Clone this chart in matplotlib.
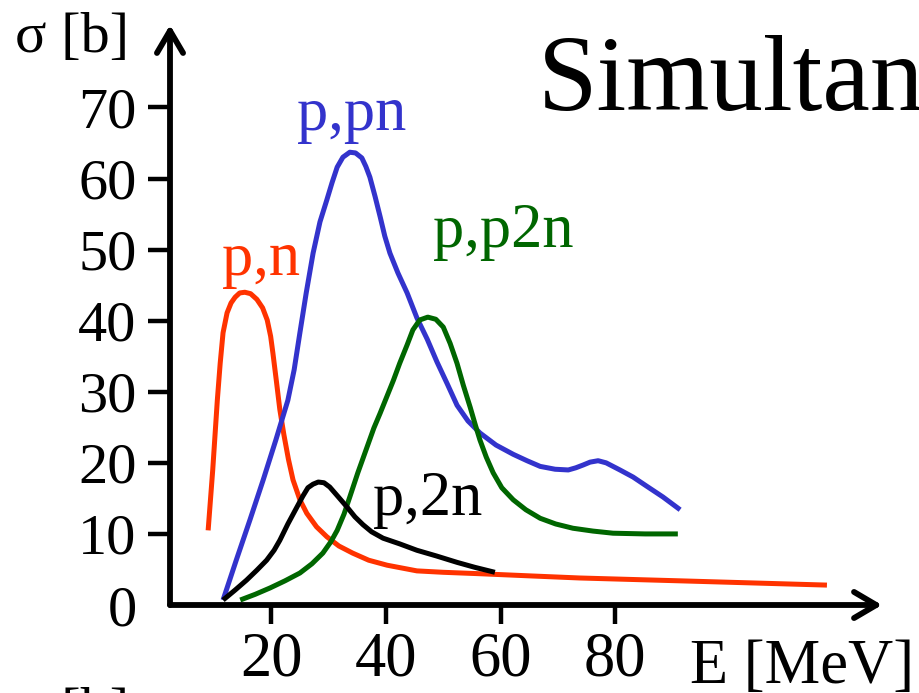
import matplotlib
matplotlib.use("Agg")
import matplotlib.pyplot as plt

plt.rcParams['font.family'] = ['Liberation Serif', 'DejaVu Serif']

# cross sections (E in MeV, sigma in barn)
pn_E = [9.0, 9.8, 10.6, 11.1, 11.6, 12.3, 13.0, 13.7, 14.5, 15.4, 16.4, 17.5, 18.5,
        19.3, 19.9, 20.3, 20.9, 21.5, 22.2, 23.0, 23.8, 25.0, 26.2, 27.9, 29.7, 31.8,
        34.2, 37.0, 40.2, 45.4, 50.0, 56.4, 65.0, 73.8, 91.3, 116.9]
pn_s = [10.5, 19.0, 28.8, 34.0, 38.3, 41.1, 42.5, 43.3, 43.9, 44.0, 43.8, 43.0, 41.8,
        40.1, 37.8, 35.4, 31.5, 27.5, 24.0, 20.5, 17.6, 14.8, 12.9, 11.0, 9.6, 8.3,
        7.3, 6.3, 5.6, 4.8, 4.6, 4.4, 4.1, 3.8, 3.4, 2.8]

ppn_E = [11.6, 13.9, 16.3, 18.6, 20.8, 22.9, 24.0, 25.0, 26.1, 27.3, 28.5, 29.7, 30.6,
         31.5, 32.5, 33.7, 34.7, 35.8, 36.5, 37.2, 38.1, 39.0, 39.8, 40.7, 42.1, 43.7,
         45.4, 47.2, 48.9, 50.7, 52.4, 54.3, 56.4, 59.2, 62.2, 64.6, 66.9, 69.5, 71.8,
         73.1, 74.4, 75.6, 77.0, 78.4, 80.8, 83.1, 85.5, 88.3, 91.3]
ppn_s = [0.7, 6.3, 12.0, 17.6, 23.2, 28.8, 33.1, 38.3, 43.9, 49.5, 53.9, 57.0, 59.4,
         61.6, 63.0, 63.7, 63.6, 62.9, 61.7, 60.2, 57.5, 54.6, 51.9, 49.5, 46.7, 43.9,
         40.4, 37.4, 34.2, 31.1, 28.1, 25.9, 24.2, 22.5, 21.2, 20.3, 19.5, 19.1, 19.0,
         19.3, 19.7, 20.1, 20.3, 20.0, 19.0, 18.0, 16.7, 15.2, 13.4]

pp2n_E = [14.6, 17.2, 19.8, 22.4, 25.0, 27.1, 29.0, 30.4, 31.5, 32.7, 33.7, 35.1, 36.7,
          37.9, 39.0, 40.2, 41.3, 42.4, 43.7, 44.7, 45.9, 47.3, 48.7, 50.0, 51.2, 52.4,
          53.5, 54.7, 55.6, 56.4, 57.5, 58.7, 60.2, 62.2, 64.4, 66.9, 69.6, 72.6, 76.1,
          79.6, 85.2, 90.9]
pp2n_s = [0.7, 1.5, 2.4, 3.4, 4.5, 5.8, 7.3, 8.9, 10.5, 12.8, 15.2, 18.6, 22.2,
          24.9, 27.0, 29.4, 31.6, 34.0, 36.6, 38.7, 40.1, 40.5, 40.2, 39.1, 36.8, 34.0,
          30.9, 27.8, 25.3, 23.2, 20.8, 18.6, 16.5, 14.8, 13.4, 12.2, 11.4, 10.8, 10.4,
          10.1, 10.0, 10.0]

p2n_E = [11.6, 13.7, 15.7, 17.5, 19.2, 20.5, 21.5, 22.9, 24.5, 25.5, 26.4, 27.3, 28.2,
         29.2, 30.2, 31.6, 33.2, 34.6, 36.0, 37.5, 39.5, 42.4, 45.4, 48.8, 52.4, 55.5, 59.0]
p2n_s = [0.7, 2.1, 3.5, 4.9, 6.3, 7.7, 9.1, 11.4, 13.8, 15.3, 16.5, 17.0, 17.3,
         17.2, 16.6, 15.3, 13.8, 12.4, 11.3, 10.3, 9.4, 8.6, 7.7, 6.9, 6.0, 5.3, 4.6]

x_ticks = [20, 40, 60, 80]
y_ticks = [0, 10, 20, 30, 40, 50, 60, 70]

red, blue, green = '#ff3300', '#3333cc', '#006600'

fig = plt.figure(figsize=(9.19, 6.93), dpi=100)
ax = fig.add_axes([170 / 919, 88 / 693, 712 / 919, 580 / 693])
ax.set_xlim(2.35, 126.5)
ax.set_ylim(0, 81.6)
for s in ax.spines.values():
    s.set_visible(False)

lw = 3.6
ax.plot(pn_E, pn_s, c=red, lw=lw, solid_capstyle='butt', solid_joinstyle='round')
ax.plot(ppn_E, ppn_s, c=blue, lw=lw, solid_capstyle='butt', solid_joinstyle='round')
ax.plot(pp2n_E, pp2n_s, c=green, lw=lw, solid_capstyle='butt', solid_joinstyle='round')
ax.plot(p2n_E, p2n_s, c='k', lw=lw, solid_capstyle='butt', solid_joinstyle='round')

# axes drawn as arrows
arr = dict(arrowstyle='->,head_length=0.8,head_width=0.47', lw=4.2, color='k',
           mutation_scale=20, shrinkA=0, shrinkB=0)
ax.annotate('', xy=(0, 1), xytext=(0, 0), xycoords='axes fraction', arrowprops=arr)
ax.annotate('', xy=(1, 0), xytext=(0, 0), xycoords='axes fraction', arrowprops=arr)

ax.set_xticks(x_ticks)
ax.set_xticklabels([str(t) for t in x_ticks])
ax.set_yticks(y_ticks)
ax.set_yticklabels([str(t) for t in y_ticks])
ax.tick_params(axis='y', direction='out', length=16, width=3.2, pad=8, labelsize=42)
ax.tick_params(axis='x', direction='out', length=14, width=3.2, pad=5, labelsize=45)
ax.yaxis.get_major_ticks()[0].tick1line.set_visible(False)

# curve labels
ax.text(18.2, 46.4, 'p,n', color=red, fontsize=45, ha='center', va='baseline')
ax.text(34.1, 66.8, 'p,pn', color=blue, fontsize=45, ha='center', va='baseline')
ax.text(60.4, 50.4, 'p,p2n', color=green, fontsize=45, ha='center', va='baseline')
ax.text(47.3, 12.7, 'p,2n', color='k', fontsize=45, ha='center', va='baseline')

W, H = 919, 693
fig.text(15 / W, 1 - 52 / H, 'σ [b]', fontsize=42, ha='left', va='baseline')
fig.text(690 / W, 1 - 683 / H, 'E [MeV]', fontsize=45, ha='left', va='baseline')
fig.text(538 / W, 1 - 110 / H, 'Simultan', fontsize=77, ha='left', va='baseline')
fig.text(15 / W, 1 - 727 / H, 'σ [b]', fontsize=42, ha='left', va='baseline')

fig.savefig('out.png', dpi=100)
